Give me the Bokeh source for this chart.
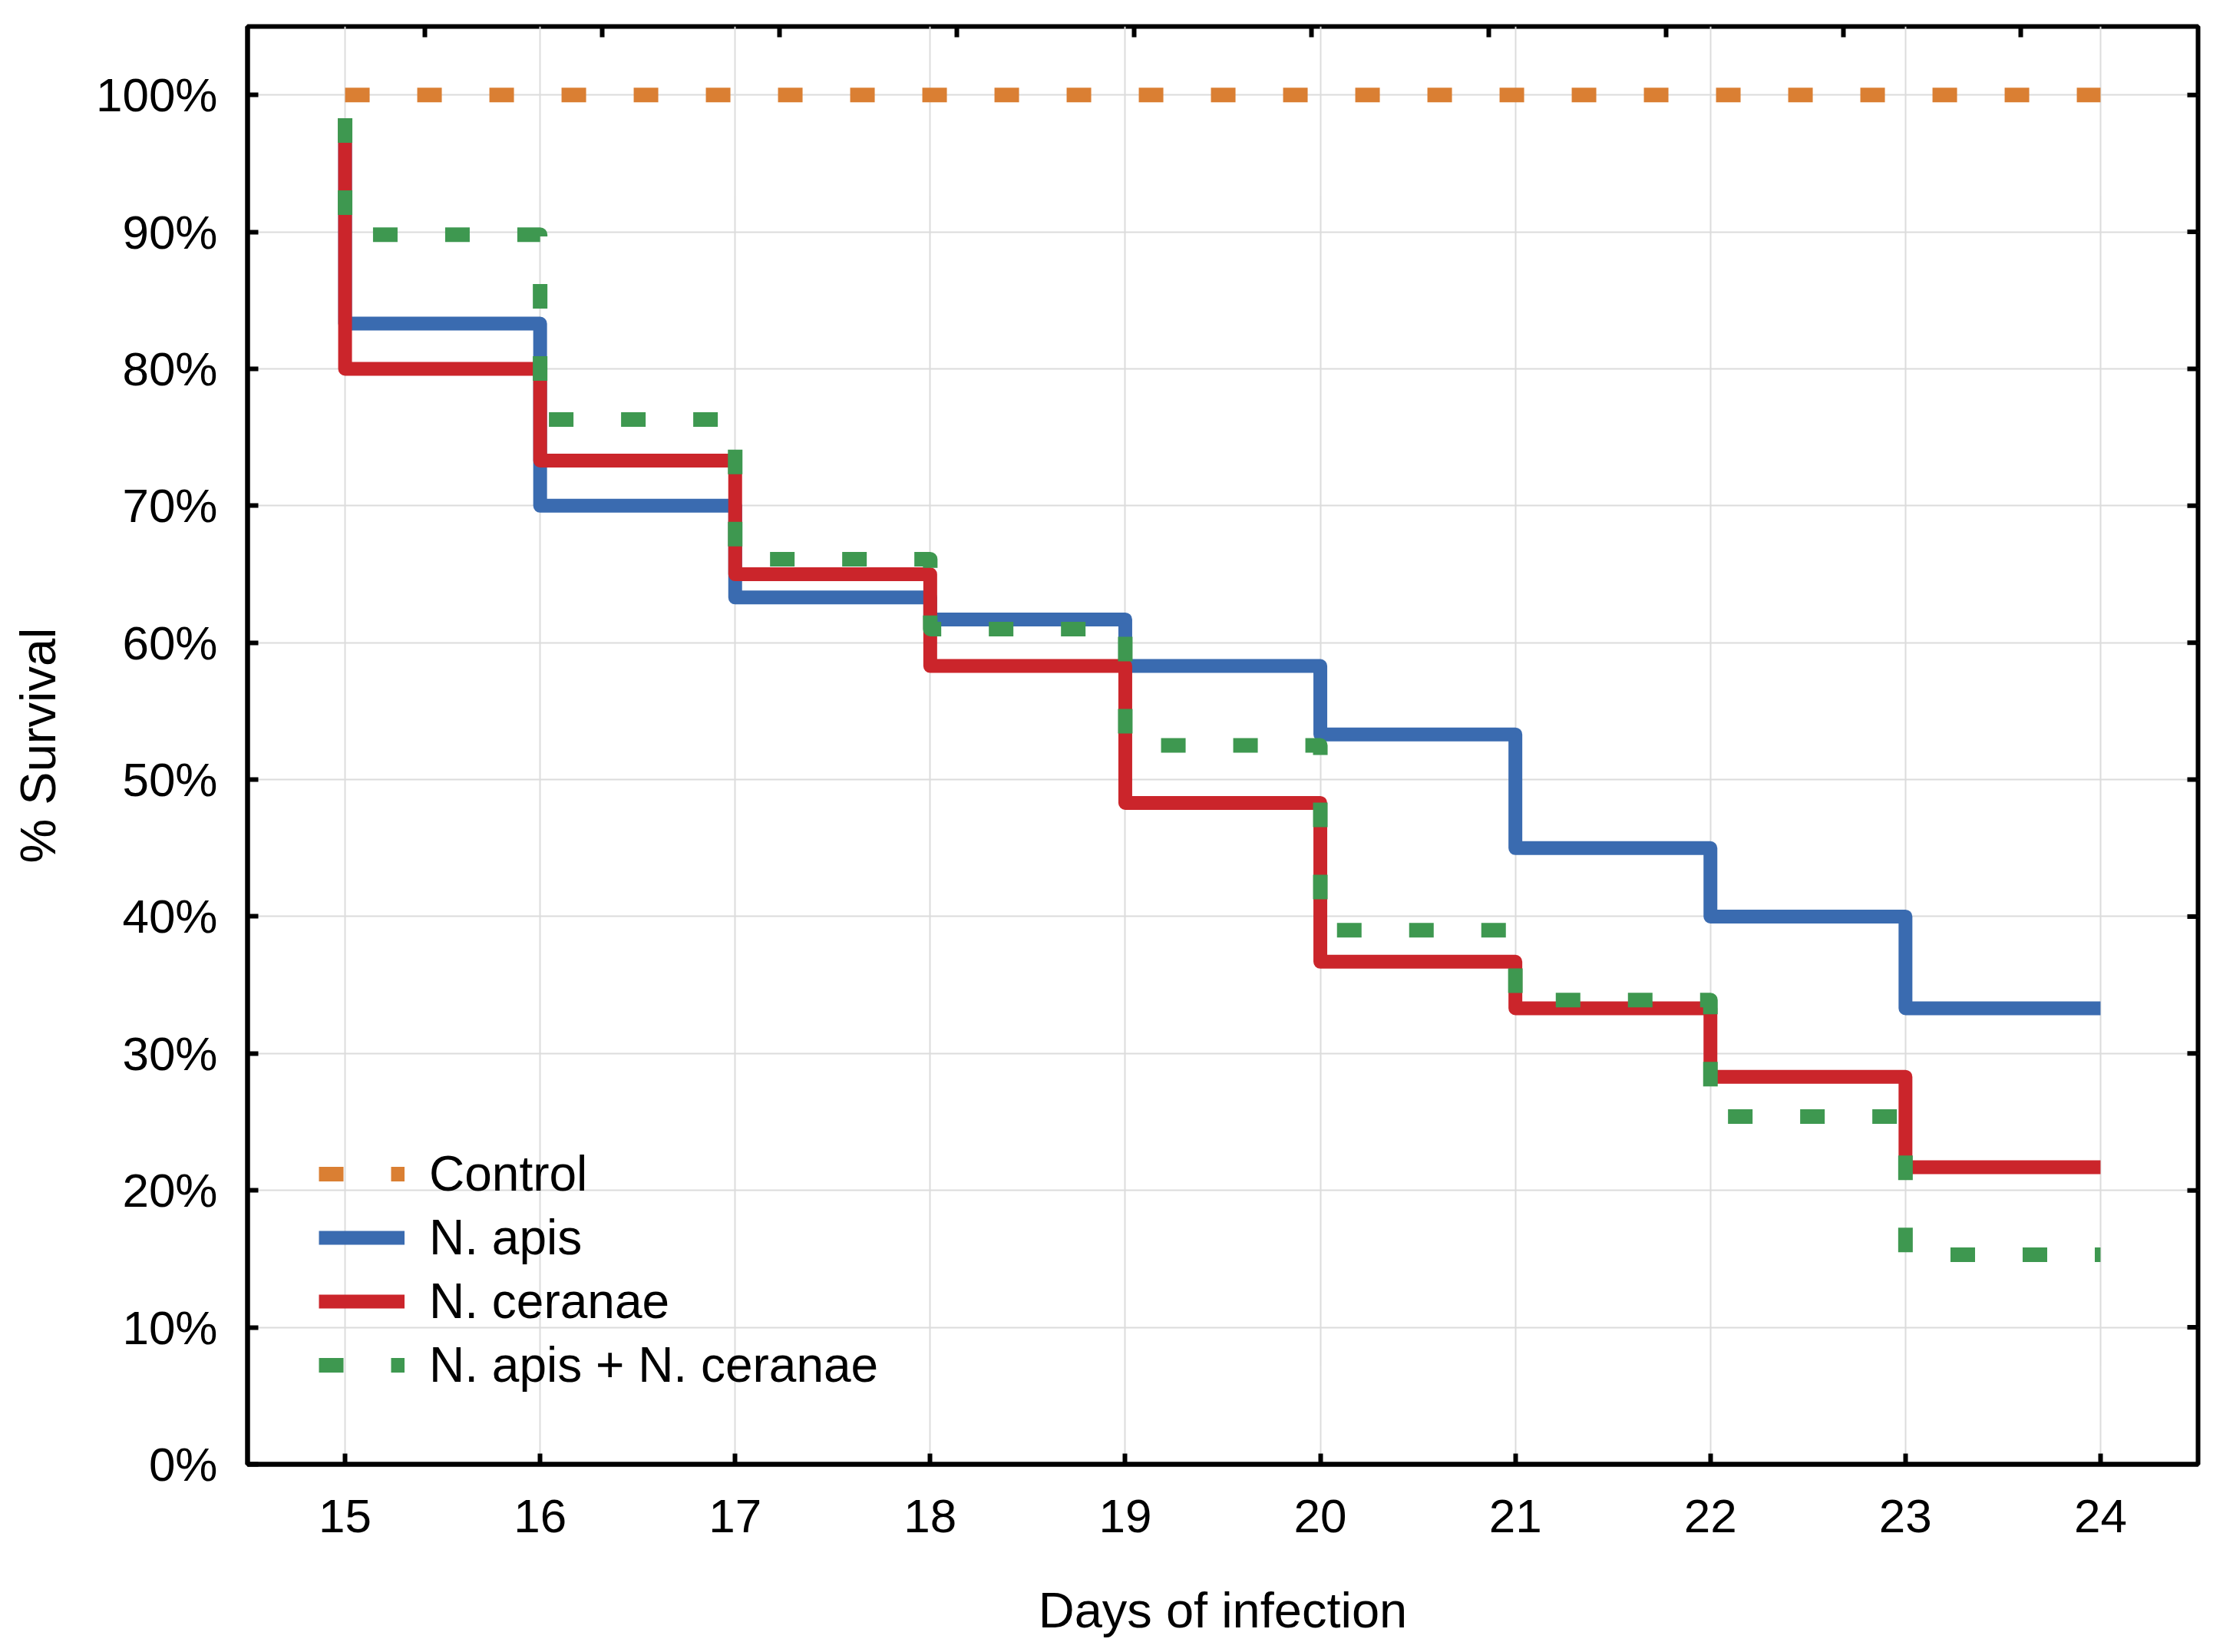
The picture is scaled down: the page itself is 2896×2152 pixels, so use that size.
import math
from bokeh.plotting import figure
from bokeh.models import FixedTicker, Range1d, Legend, LegendItem
from bokeh.embed import file_html
from bokeh.resources import INLINE

# ---- data ----
days = [15, 16, 17, 18, 19, 20, 21, 22, 23, 24]
start_level = 98.3
control = [100, 100, 100, 100, 100, 100, 100, 100, 100, 100]
n_apis = [83.3, 70.0, 63.3, 61.7, 58.3, 53.3, 45.0, 40.0, 33.3]
n_ceranae = [80.0, 73.3, 65.0, 58.3, 48.3, 36.7, 33.3, 28.3, 21.7]
n_both = [89.8, 76.3, 66.1, 61.0, 52.5, 39.0, 33.9, 25.4, 15.3]

series_names = ["Control", "N. apis", "N. ceranae", "N. apis + N. ceranae"]
colors = ["#DA7F33", "#3A6BB0", "#CB252B", "#3E9850"]

x_ticks = days
y_ticks = [0, 10, 20, 30, 40, 50, 60, 70, 80, 90, 100]
y_tick_labels = ["0%", "10%", "20%", "30%", "40%", "50%", "60%", "70%", "80%", "90%", "100%"]

FONT = "Liberation Sans"

x_range = Range1d(14.5, 24.5)
y_range = Range1d(0, 105)
top_ticks = [x_range.start + k * (x_range.end - x_range.start) / 11 for k in range(1, 11)]

p = figure(width=2880, height=2136, x_range=x_range, y_range=y_range,
           output_backend="svg", toolbar_location=None,
           min_border_left=322, min_border_right=17, min_border_top=34, min_border_bottom=227)
p.background_fill_color = "white"
p.border_fill_color = "white"
p.outline_line_color = "black"
p.outline_line_width = 6


def km_xy(vals):
    xs = [days[0]] + days
    ys = [start_level] + vals + [vals[-1]]
    return xs, ys


renderers = []
r0 = p.line([days[0], days[-1]], [control[0], control[-1]], line_color=colors[0], line_width=19,
            line_dash="32 62", line_cap="butt")
renderers.append(r0)
for vals, col, dash in [(n_apis, colors[1], "solid"), (n_ceranae, colors[2], "solid"),
                        (n_both, colors[3], "32 62")]:
    xs, ys = km_xy(vals)
    r = p.step(xs, ys, mode="after", line_color=col, line_width=19 if dash != "solid" else 18,
               line_dash=dash, line_join="round", line_cap="butt")
    renderers.append(r)

# inward ticks on the top and right frame edges (no labels)
p.scatter(x=top_ticks, y=[y_range.end] * len(top_ticks), marker="dash", angle=math.pi / 2,
          size=28, line_color="black", line_width=6)
p.scatter(x=[x_range.end] * (len(y_ticks) - 1), y=y_ticks[1:], marker="dash",
          size=28, line_color="black", line_width=6)

# axes
xb = p.xaxis[0]
xb.ticker = FixedTicker(ticks=x_ticks)
yl = p.yaxis[0]
yl.ticker = FixedTicker(ticks=y_ticks)
yl.major_label_overrides = {t: l for t, l in zip(y_ticks, y_tick_labels)}

for ax in (xb, yl):
    ax.axis_line_color = "black"
    ax.axis_line_width = 6
    ax.major_tick_line_color = "black"
    ax.major_tick_line_width = 6
    ax.major_tick_in = 14
    ax.major_tick_out = 0
    ax.minor_tick_line_color = None
    ax.major_label_text_font = FONT
    ax.major_label_text_font_size = "62px"
    ax.major_label_text_color = "black"
    ax.axis_label_text_font = FONT
    ax.axis_label_text_font_size = "65px"
    ax.axis_label_text_font_style = "normal"
    ax.axis_label_text_color = "black"

xb.axis_label = "Days of infection"
xb.major_label_standoff = 46
xb.axis_label_standoff = 62
yl.axis_label = "% Survival"
yl.major_label_standoff = 39
yl.axis_label_standoff = 36

p.xgrid.ticker = FixedTicker(ticks=x_ticks)
p.ygrid.ticker = FixedTicker(ticks=y_ticks)
p.xgrid.grid_line_color = "#dcdcdc"
p.ygrid.grid_line_color = "#dcdcdc"
p.xgrid.grid_line_width = 2
p.ygrid.grid_line_width = 2

legend = Legend(items=[LegendItem(label=n, renderers=[r]) for n, r in zip(series_names, renderers)],
                location=(93, 92))
legend.padding = 0
legend.margin = 0
legend.spacing = 9
legend.glyph_width = 112
legend.glyph_height = 70
legend.label_height = 70
legend.label_standoff = 32
legend.label_text_font = FONT
legend.label_text_font_size = "64px"
legend.label_text_color = "black"
legend.background_fill_alpha = 0
legend.border_line_alpha = 0
p.add_layout(legend, "center")

open("out.html", "w").write(file_html(p, INLINE))
